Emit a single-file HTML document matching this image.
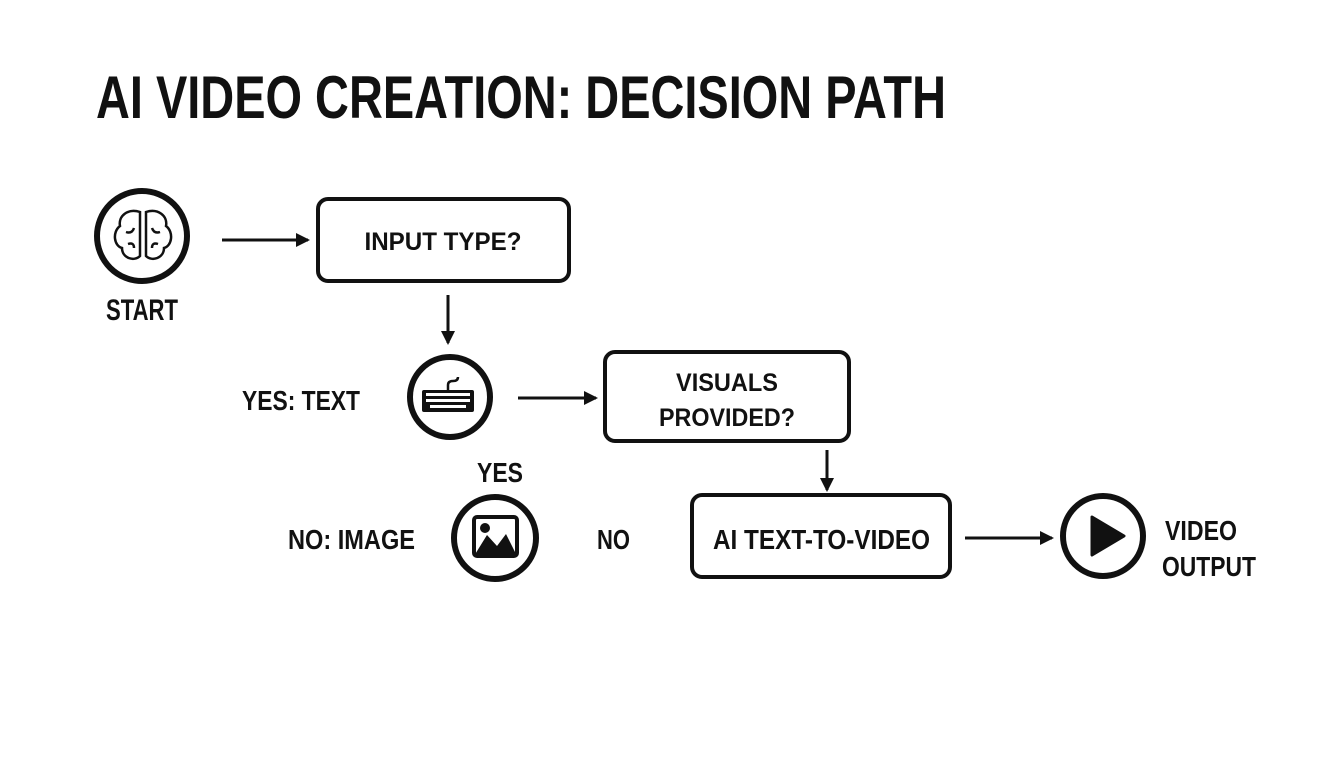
<!DOCTYPE html>
<html><head><meta charset="utf-8"><style>
html,body{margin:0;padding:0;background:#fff;}
svg{display:block;}
text{font-family:"Liberation Sans Narrow","Liberation Sans",sans-serif;font-weight:bold;fill:#111;}
</style></head><body>
<svg width="1344" height="768" viewBox="0 0 1344 768" xmlns="http://www.w3.org/2000/svg">
<defs>
<marker id="ah" markerWidth="14" markerHeight="14" refX="12" refY="7" orient="auto" markerUnits="userSpaceOnUse">
<path d="M0,0 L14,7 L0,14 Z" fill="#111"/>
</marker>
</defs>
<rect width="1344" height="768" fill="#fff"/>
<text x="96" y="118" font-size="60" textLength="850" lengthAdjust="spacingAndGlyphs">AI VIDEO CREATION: DECISION PATH</text>

<circle cx="142" cy="236" r="45" fill="none" stroke="#111" stroke-width="6"/>
<g fill="none" stroke="#111" stroke-width="2.5">
<path d="M140,212 C128,208 118,216 120,226 C112,232 114,246 122,248 C122,258 134,262 140,256 Z"/>
<path d="M146,212 C158,208 168,216 166,226 C174,232 172,246 164,248 C164,258 152,262 146,256 Z"/>
<path d="M126,232 q6,2 8,-4 M128,244 q6,-2 6,4 M160,232 q-6,2 -8,-4 M158,244 q-6,-2 -6,4"/>
</g>
<text x="142" y="320" font-size="30" text-anchor="middle" textLength="72" lengthAdjust="spacingAndGlyphs">START</text>
<line x1="222" y1="240" x2="308" y2="240" stroke="#111" stroke-width="3" marker-end="url(#ah)"/>

<rect x="318" y="199" width="251" height="82" rx="10" fill="none" stroke="#111" stroke-width="4"/>
<text x="443" y="250" font-size="25" text-anchor="middle" textLength="157" lengthAdjust="spacingAndGlyphs">INPUT TYPE?</text>
<line x1="448" y1="295" x2="448" y2="343" stroke="#111" stroke-width="3" marker-end="url(#ah)"/>

<circle cx="450" cy="397" r="40" fill="none" stroke="#111" stroke-width="6"/>
<rect x="422" y="390" width="52" height="22" rx="2" fill="#111"/>
<g fill="#fff">
<rect x="426" y="393" width="44" height="3"/><rect x="426" y="399" width="44" height="3"/><rect x="430" y="405" width="36" height="3"/>
</g>
<path d="M448,390 v-5 q0,-4 5,-4 q5,0 5,-4" fill="none" stroke="#111" stroke-width="2.5"/>
<text x="242" y="410" font-size="28" textLength="118" lengthAdjust="spacingAndGlyphs">YES: TEXT</text>
<line x1="518" y1="398" x2="596" y2="398" stroke="#111" stroke-width="3" marker-end="url(#ah)"/>

<rect x="605" y="352" width="244" height="89" rx="10" fill="none" stroke="#111" stroke-width="4"/>
<text x="727" y="391" font-size="25" text-anchor="middle" textLength="102" lengthAdjust="spacingAndGlyphs">VISUALS</text>
<text x="727" y="426" font-size="25" text-anchor="middle" textLength="136" lengthAdjust="spacingAndGlyphs">PROVIDED?</text>
<line x1="827" y1="450" x2="827" y2="490" stroke="#111" stroke-width="3" marker-end="url(#ah)"/>

<text x="500" y="482" font-size="28" text-anchor="middle" textLength="46" lengthAdjust="spacingAndGlyphs">YES</text>
<circle cx="495" cy="538" r="41" fill="none" stroke="#111" stroke-width="6"/>
<rect x="474" y="517" width="43" height="39" rx="3" fill="none" stroke="#111" stroke-width="4"/>
<circle cx="485" cy="528" r="5" fill="#111"/>
<path d="M474,556 L487,535 L497,546 L506,534 L517,556 Z" fill="#111"/>
<text x="288" y="549" font-size="28" textLength="127" lengthAdjust="spacingAndGlyphs">NO: IMAGE</text>
<text x="597" y="549" font-size="28" textLength="33" lengthAdjust="spacingAndGlyphs">NO</text>

<rect x="692" y="495" width="258" height="82" rx="10" fill="none" stroke="#111" stroke-width="4"/>
<text x="713" y="549" font-size="28" textLength="217" lengthAdjust="spacingAndGlyphs">AI TEXT-TO-VIDEO</text>
<line x1="965" y1="538" x2="1052" y2="538" stroke="#111" stroke-width="3" marker-end="url(#ah)"/>

<circle cx="1103" cy="536" r="40" fill="none" stroke="#111" stroke-width="6"/>
<path d="M1092,517 L1124,536 L1092,555 Z" fill="#111" stroke="#111" stroke-width="3" stroke-linejoin="round"/>
<text x="1165" y="540" font-size="28" textLength="72" lengthAdjust="spacingAndGlyphs">VIDEO</text>
<text x="1162" y="576" font-size="28" textLength="94" lengthAdjust="spacingAndGlyphs">OUTPUT</text>
</svg>
</body></html>
